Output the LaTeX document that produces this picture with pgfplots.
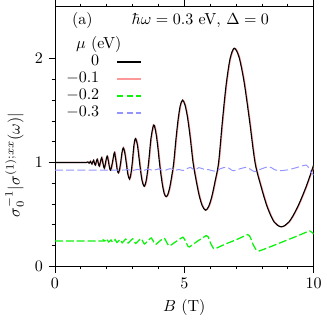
\documentclass[border=0pt]{standalone}
\usepackage{pgfplots}
\usepackage{pgfplotstable}
\pgfplotsset{compat=1.18}
\definecolor{cred}{rgb}{1,0.6,0.6}
\definecolor{cgreen}{rgb}{0.05,0.95,0.05}
\definecolor{cblue}{rgb}{0.58,0.58,1}
\pgfplotstableread{
B v
0 1.0
1.0 1.0
1.22 1.0
1.270 1.005
1.318 0.993
1.371 1.01
1.429 0.985
1.491 1.02
1.559 0.975
1.633 1.03
1.715 0.965
1.806 1.045
1.907 0.945
2.019 1.06
2.146 0.925
2.29 1.09
2.328 1.064
2.367 1.0
2.408 0.93
2.45 0.90
2.495 0.929
2.541 1.0
2.590 1.092
2.64 1.14
2.696 1.099
2.755 1.0
2.816 0.890
2.88 0.84
2.934 0.887
2.991 1.0
3.049 1.156
3.11 1.23
3.189 1.166
3.271 1.0
3.358 0.837
3.45 0.77
3.533 0.834
3.621 1.0
3.713 1.233
3.81 1.36
3.865 1.333
3.921 1.258
3.980 1.142
4.040 1.0
4.101 0.877
4.165 0.770
4.231 0.695
4.30 0.67
4.369 0.695
4.441 0.763
4.516 0.870
4.593 1.0
4.673 1.211
4.756 1.403
4.842 1.545
4.93 1.60
5.027 1.554
5.127 1.431
5.231 1.237
5.339 1.0
5.452 0.835
5.569 0.689
5.692 0.584
5.82 0.54
5.940 0.575
6.063 0.671
6.192 0.820
6.327 1.0
6.468 1.383
6.615 1.742
6.769 1.998
6.93 2.10
7.115 2.016
7.310 1.778
7.516 1.414
7.734 1.0
7.965 0.770
8.210 0.569
8.471 0.427
8.75 0.38
9.046 0.427
9.363 0.562
9.704 0.763
10 0.975
}\mublack
\pgfplotstableread{
B v
0 0.243
1.85 0.243
1.91 0.249
1.95 0.238
2.03 0.251
2.08 0.234
2.17 0.253
2.23 0.231
2.33 0.256
2.40 0.229
2.52 0.258
2.60 0.226
2.74 0.262
2.83 0.224
3.01 0.265
3.12 0.220
3.33 0.268
3.46 0.215
3.72 0.272
3.88 0.210
4.05 0.242
4.22 0.272
4.32 0.230
4.42 0.195
4.68 0.238
4.95 0.280
5.05 0.240
5.15 0.190
5.2 0.186
5.5 0.240
5.85 0.295
5.92 0.285
6.02 0.220
6.13 0.172
6.2 0.170
6.6 0.215
7.05 0.260
7.45 0.305
7.55 0.280
7.65 0.215
7.78 0.158
7.9 0.148
8.4 0.195
8.9 0.245
9.4 0.295
9.85 0.340
10 0.310
}\mugreen
\pgfplotstableread{
B v
0 0.927
2.6 0.927
2.8 0.931
3.0 0.922
3.2 0.933
3.4 0.921
3.6 0.936
3.8 0.922
4.0 0.938
4.2 0.92
4.45 0.94
4.65 0.925
4.8 0.932
4.95 0.922
5.1 0.94
5.25 0.952
5.4 0.925
5.56 0.95
5.75 0.935
5.95 0.93
6.19 0.915
6.4 0.94
6.64 0.955
6.89 0.92
7.1 0.935
7.39 0.953
7.55 0.935
7.71 0.912
7.95 0.935
8.27 0.96
8.46 0.935
8.65 0.92
9.03 0.93
9.47 0.96
9.72 0.975
9.85 0.93
9.93 0.895
10 0.88
}\mublue
\begin{document}
\begin{tikzpicture}
\begin{axis}[
  scale only axis, width=161.5pt, height=162pt,
  xmin=0, xmax=10, ymin=0, ymax=2.5,
  xtick={0,5,10}, ytick={0,1,2},
  minor x tick num=4, minor y tick num=4,
  tick align=outside, xtick pos=both, ytick pos=left,
  major tick length=4pt, minor tick length=2pt,
  tick style={black, line width=0.4pt},
  xlabel={$B$ (T)},
  ylabel={$\sigma_0^{-1}|\sigma^{(1);xx}(\omega)|$},
  ylabel style={at={(ticklabel cs:0.39)}},
  legend style={draw=none, fill=none, at={(0.015,0.835)}, anchor=north west,
    row sep=-0.3pt, nodes={inner sep=1.5pt}},
  legend plot pos=right, legend cell align=right,
  legend image code/.code={\path (0cm,0.05cm) (0.9cm,-0.05cm);\draw[#1] (0.32cm,0cm) -- (0.85cm,0cm);},
]
\addlegendimage{color=black, line width=0.9pt, solid}
\addlegendentry{$0$}
\addlegendimage{color=cred, line width=0.9pt, solid}
\addlegendentry{$-0.1$}
\addlegendimage{color=cgreen, line width=0.9pt, dash pattern=on 4pt off 2pt}
\addlegendentry{$-0.2$}
\addlegendimage{color=cblue, line width=0.7pt, dash pattern=on 4pt off 2pt}
\addlegendentry{$-0.3$}
\addplot[cred, line width=0.8pt, smooth, tension=0.5, xshift=0.35pt, forget plot] table[x=B, y=v] {\mublack};
\addplot[black, line width=0.7pt, smooth, tension=0.5, forget plot] table[x=B, y=v] {\mublack};
\addplot[cgreen, line width=0.8pt, smooth, tension=0.3, dash pattern=on 5pt off 1.8pt, forget plot] table[x=B, y=v] {\mugreen};
\addplot[cblue, line width=0.6pt, smooth, tension=0.4, dash pattern=on 5pt off 2pt, forget plot] table[x=B, y=v] {\mublue};
\node[anchor=west] at (rel axis cs:0.045,0.947) {(a)};
\node[anchor=west] at (rel axis cs:0.275,0.947) {$\hbar\omega=0.3$ eV, $\Delta=0$};
\node[anchor=west] at (rel axis cs:0.06,0.853) {$\mu$ (eV)};
\end{axis}
\end{tikzpicture}
\end{document}
